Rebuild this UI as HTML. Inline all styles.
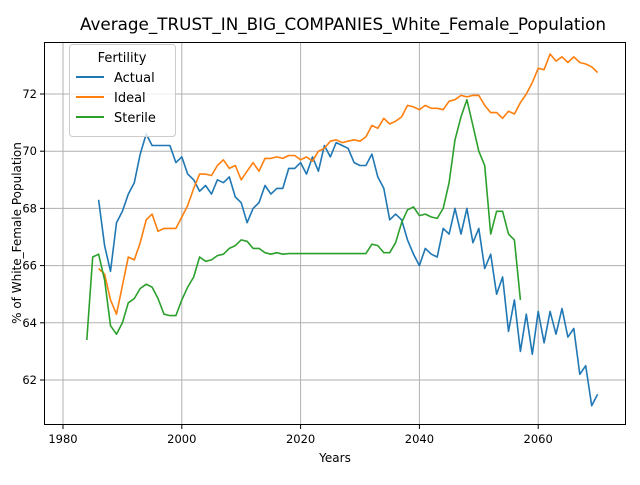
<!DOCTYPE html>
<html><head><meta charset="utf-8"><style>
body{margin:0;background:#fff;font-family:"Liberation Sans","DejaVu Sans",sans-serif}
svg text{font-family:"DejaVu Sans","Liberation Sans",sans-serif}
</style></head><body>
<svg id="chart" width="640" height="480" xmlns="http://www.w3.org/2000/svg">
<rect width="640" height="480" fill="#fff"/>
<text x="343" y="30" font-size="16.8" text-anchor="middle">Average_TRUST_IN_BIG_COMPANIES_White_Female_Population</text>
<g id="grid"></g><g id="series"></g>
<rect x="44.5" y="42.5" width="581" height="382" fill="none" stroke="#000" stroke-width="1"/>
<g id="ticks"></g>
<text x="335" y="462" font-size="12" text-anchor="middle">Years</text>
<text transform="translate(21,233) rotate(-90)" font-size="12" text-anchor="middle">% of White_Female Population</text>
<g>
<rect x="69.5" y="44.5" width="106" height="92" rx="3" fill="#fff" fill-opacity="0.8" stroke="#ccc"/>
<text x="122" y="62" font-size="13" text-anchor="middle">Fertility</text>
<line x1="76" y1="77" x2="104" y2="77" stroke="#1f77b4" stroke-width="2"/><text x="114" y="82" font-size="13">Actual</text>
<line x1="76" y1="97" x2="104" y2="97" stroke="#ff7f0e" stroke-width="2"/><text x="114" y="102" font-size="13">Ideal</text>
<line x1="76" y1="117" x2="104" y2="117" stroke="#2ca02c" stroke-width="2"/><text x="114" y="122" font-size="13">Sterile</text>
</g>
</svg>
<script>
const xTicks=[1980,2000,2020,2040,2060];
const yTicks=[62,64,66,68,70,72];
const actualStart=1986;
const actual=[68.3,66.7,65.8,67.5,67.9,68.5,68.9,69.9,70.6,70.2,70.2,70.2,70.2,69.6,69.8,69.2,69.0,68.6,68.8,68.5,69.0,68.9,69.1,68.4,68.2,67.5,68.0,68.2,68.8,68.5,68.7,68.7,69.4,69.4,69.6,69.2,69.8,69.3,70.2,69.8,70.3,70.2,70.1,69.6,69.5,69.5,69.9,69.1,68.7,67.6,67.8,67.6,66.9,66.4,66.0,66.6,66.4,66.3,67.3,67.1,68.0,67.1,68.0,66.8,67.3,65.9,66.4,65.0,65.6,63.7,64.8,63.0,64.3,62.9,64.4,63.3,64.4,63.6,64.5,63.5,63.8,62.2,62.5,61.1,61.5];
const idealStart=1986;
const ideal=[65.9,65.7,64.8,64.3,65.3,66.3,66.2,66.8,67.6,67.8,67.2,67.3,67.3,67.3,67.7,68.1,68.7,69.2,69.2,69.15,69.5,69.7,69.4,69.5,69.0,69.3,69.6,69.3,69.75,69.75,69.8,69.75,69.85,69.85,69.7,69.8,69.65,70.0,70.1,70.35,70.4,70.3,70.35,70.4,70.35,70.5,70.9,70.8,71.15,70.95,71.05,71.2,71.6,71.55,71.45,71.6,71.5,71.5,71.45,71.75,71.8,71.95,71.9,71.95,71.95,71.6,71.35,71.35,71.15,71.4,71.3,71.7,72.0,72.4,72.9,72.85,73.4,73.15,73.3,73.1,73.3,73.1,73.05,72.95,72.75];
const sterileStart=1984;
const sterile=[63.4,66.3,66.4,65.5,63.9,63.6,64.0,64.7,64.85,65.2,65.35,65.25,64.85,64.3,64.25,64.25,64.8,65.25,65.6,66.3,66.15,66.2,66.35,66.4,66.6,66.7,66.9,66.85,66.6,66.6,66.45,66.4,66.45,66.4,66.42,66.42,66.42,66.42,66.42,66.42,66.42,66.42,66.42,66.42,66.42,66.42,66.42,66.42,66.75,66.7,66.45,66.45,66.8,67.5,67.95,68.05,67.75,67.8,67.7,67.65,68.0,68.9,70.4,71.2,71.8,70.9,70.0,69.5,67.1,67.9,67.9,67.1,66.9,64.8];
const NS="http://www.w3.org/2000/svg";
const X=y=>63+(y-1980)*5.94;
const Y=v=>94+(72-v)*28.6;
const grid=document.getElementById('grid'),ticks=document.getElementById('ticks'),ser=document.getElementById('series');
function mk(tag,attrs,parent){const e=document.createElementNS(NS,tag);for(const k in attrs)e.setAttribute(k,attrs[k]);parent.appendChild(e);return e;}
xTicks.forEach(t=>{const x=X(t);
const g=mk('line',{x1:x,x2:x,y1:42,y2:425,stroke:'#b0b0b0','stroke-width':1},grid);


mk('line',{x1:x,x2:x,y1:425,y2:429,stroke:'#000'},ticks);
const tx=mk('text',{x:x,y:443,'font-size':11.5,'text-anchor':'middle'},ticks);tx.textContent=t;

});
yTicks.forEach(t=>{const y=Y(t);
const g=mk('line',{x1:44,x2:625,y1:y,y2:y,stroke:'#b0b0b0','stroke-width':1},grid);


mk('line',{x1:40,x2:44,y1:y,y2:y,stroke:'#000'},ticks);
const tx=mk('text',{x:37,y:y+4,'font-size':11.5,'text-anchor':'end'},ticks);tx.textContent=t;

});
function line(data,start,color,name){const pts=data.map((v,i)=>X(start+i).toFixed(1)+','+Y(v).toFixed(1)).join(' ');
const p=mk('polyline',{points:pts,fill:'none',stroke:color,'stroke-width':1.6,'stroke-linejoin':'round'},ser);

}
line(actual,actualStart,'#1f77b4','actual-line');
line(ideal,idealStart,'#ff7f0e','ideal-line');
line(sterile,sterileStart,'#2ca02c','sterile-line');
</script>
</body></html>
